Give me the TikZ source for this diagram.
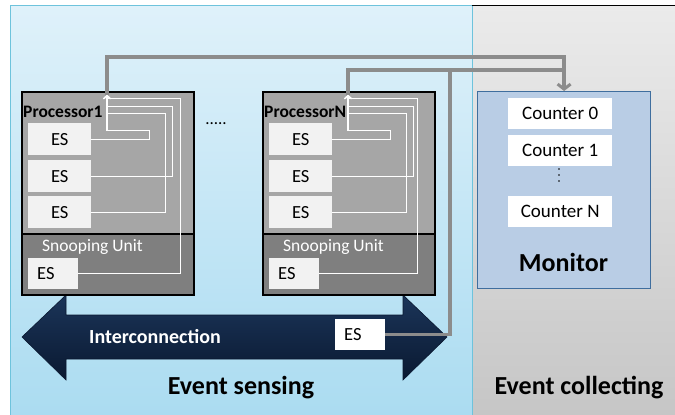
\documentclass[tikz,border=0pt]{standalone}
\usepackage{fontspec}
\setmainfont{Carlito}
\usetikzlibrary{arrows.meta}
\definecolor{bluetop}{HTML}{DFF1FA}
\definecolor{bluebot}{HTML}{ABDCF1}
\definecolor{graytop}{HTML}{EBEBEB}
\definecolor{graybot}{HTML}{C6C6C6}
\definecolor{cyanline}{HTML}{6EC3DC}
\definecolor{procgray}{HTML}{A6A6A6}
\definecolor{snoopgray}{HTML}{7F7F7F}
\definecolor{esfill}{HTML}{F2F2F2}
\definecolor{monfill}{HTML}{B9CDE5}
\definecolor{monborder}{HTML}{3F6E9E}
\definecolor{navytop}{HTML}{1B3559}
\definecolor{navybot}{HTML}{0A1931}
\definecolor{connline}{HTML}{8C8C8C}
\begin{document}
\begin{tikzpicture}[x=1pt,y=-1pt,
  procbox/.style={draw=black,line width=1.5pt,fill=procgray,anchor=north west,minimum width=172pt,minimum height=203pt,inner sep=0pt},
  snoopbox/.style={draw=black,line width=1.5pt,fill=snoopgray,anchor=north west,minimum width=172pt,minimum height=61pt,inner sep=0pt},
  esbox/.style={fill=esfill,anchor=north west,minimum width=63pt,minimum height=32pt,inner sep=0pt,font=\fontsize{18.5}{18.5}\selectfont},
  esleft/.style={fill=esfill,anchor=north west,text width=32pt,inner xsep=9pt,inner ysep=0pt,minimum height=31pt,align=left,font=\fontsize{18.5}{18.5}\selectfont},
  counter/.style={fill=white,anchor=north west,minimum width=104pt,minimum height=31pt,inner sep=0pt,font=\fontsize{19}{19}\selectfont},
  plabel/.style={anchor=west,inner sep=0pt,font=\bfseries\fontsize{17.5}{17.5}\selectfont},
  slabel/.style={anchor=west,inner sep=0pt,text=white,font=\fontsize{17.5}{17.5}\selectfont},
  biglabel/.style={inner sep=0pt,font=\bfseries\fontsize{26}{26}\selectfont},
  wline/.style={draw=white,line width=1.2pt},
  warrow/.style={wline,-{Straight Barb[length=3pt,width=7pt]}},
  gline/.style={draw=connline,line width=3.5pt},
  garrow/.style={gline,-{Straight Barb[length=5pt,width=13pt,line width=3pt]}}
]
\useasboundingbox (0,0) rectangle (675,415);
% backgrounds
\fill[top color=bluetop,bottom color=bluebot] (10,5) rectangle (472,415);
\fill[top color=graytop,bottom color=graybot] (472,5) rectangle (675,415);
\draw[cyanline,line width=1pt] (10,415) -- (10,5) -- (472,5) -- (472,415);
\draw[black,line width=1pt] (472,5) -- (675,5);

% interconnection arrow
\shade[top color=navytop,bottom color=navybot,draw=navybot,line width=0.6pt]
  (22,337) -- (66,295) -- (66,315) -- (403,315) -- (403,295) -- (447,337)
  -- (403,380) -- (403,359) -- (66,359) -- (66,380) -- cycle;
\node[inner sep=0pt,text=white,font=\bfseries\fontsize{20}{20}\selectfont] (ict) at (155,337) {Interconnection};
\node[esleft,fill=white,minimum height=31pt] (esI) at (335,319) {ES};

% Processor 1
\node[procbox] (p1) at (21,91) {};
\node[snoopbox] (s1) at (21,233) {};
\node[plabel] (p1l) at (23,112) {Processor1};
\node[slabel] (s1l) at (42,247) {Snooping Unit};
\node[esbox] (e11) at (28,123) {ES};
\node[esbox] (e12) at (28,160) {ES};
\node[esbox] (e13) at (28,196) {ES};
\node[esleft] (es1) at (28,258) {ES};

% Processor N
\node[procbox] (pN) at (262,91) {};
\node[snoopbox] (sN) at (262,233) {};
\node[plabel] (pNl) at (264,112) {ProcessorN};
\node[slabel] (sNl) at (283,247) {Snooping Unit};
\node[esbox] (eN1) at (269,123) {ES};
\node[esbox] (eN2) at (269,160) {ES};
\node[esbox] (eN3) at (269,196) {ES};
\node[esleft] (esN) at (269,258) {ES};

\node[inner sep=0pt,font=\fontsize{17}{17}\selectfont] (dots) at (216,124) {.....};

% Monitor
\node[draw=monborder,line width=1.2pt,fill=monfill,anchor=north west,minimum width=173pt,minimum height=197pt,inner sep=0pt] (mon) at (477,91) {};
\node[counter] (c0) at (508,98) {Counter 0};
\node[counter] (c1) at (508,135) {Counter 1};
\node[inner sep=0pt,minimum size=16pt] (cd) at (559,175) {};
\foreach \dy in {-6,0,6} \fill[black] ([yshift=\dy pt]cd.center) circle (0.9pt);
\node[counter] (cN) at (508,196) {Counter N};
\node[inner sep=0pt,font=\bfseries\fontsize{26}{26}\selectfont] (monl) at (563.5,262) {Monitor};

% region labels
\node[biglabel] (evs) at (241,388) {Event sensing};
\node[biglabel] (evc) at (579,388) {Event collecting};

% white internal lines, processor 1
\coordinate (t1) at (107,95);
\draw[warrow] (e11.east) -| ++(58,-9) -| (t1);
\draw[warrow] (e12.east) -| ++(81,-70) -| (t1);
\draw[warrow] (e13.east) -| ++(74,-99) -| (t1);
\draw[warrow] (es1.east) -| ++(102,-175) -| (t1);

% white internal lines, processor N
\coordinate (tN) at (348,95);
\draw[warrow] (eN1.east) -| ++(58,-9) -| (tN);
\draw[warrow] (eN2.east) -| ++(81,-70) -| (tN);
\draw[warrow] (eN3.east) -| ++(74,-99) -| (tN);
\draw[warrow] (esN.east) -| ++(98,-175) -| (tN);

% gray connectors to monitor
\coordinate (jn) at (563.5,70);
\coordinate (ji) at (450,70);
\draw[gline] (esI.east) -| (ji);
\draw[gline] (tN) |- (jn);
\draw[garrow] (t1) -- ++(0,-38) -| (mon.north);
\end{tikzpicture}
\end{document}
